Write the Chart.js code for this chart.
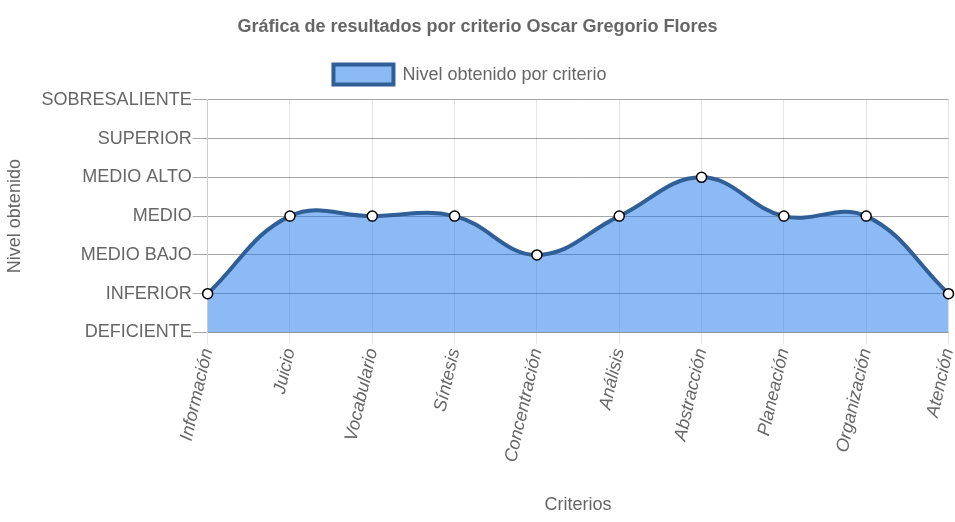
<!DOCTYPE html>
<html><head><meta charset="utf-8">
<script src="https://cdn.jsdelivr.net/npm/chart.js@4/dist/chart.umd.min.js"></script>
<style>html,body{margin:0;padding:0;background:#fff}#wrap{width:955px;height:522px}</style>
</head><body><div id="wrap"><canvas id="c"></canvas></div>
<script>
const categories = ["Información","Juicio","Vocabulario","Síntesis","Concentración","Análisis","Abstracción","Planeación","Organización","Atención"];
const levelValues = [1,3,3,3,2,3,4,3,3,1];
const levelLabels = ["DEFICIENTE","INFERIOR","MEDIO BAJO","MEDIO","MEDIO ALTO","SUPERIOR","SOBRESALIENTE"];

Chart.defaults.font.family = "'Liberation Sans', Arial, sans-serif";
Chart.defaults.color = '#666';
Chart.defaults.font.size = 18;

new Chart(document.getElementById('c'), {
  type: 'line',
  data: {
    labels: categories,
    datasets: [{
      label: 'Nivel obtenido por criterio   ',
      data: levelValues,
      fill: true,
      backgroundColor: 'rgba(23,117,235,0.5)',
      borderColor: '#2f5f96',
      borderWidth: 4,
      tension: 0.4,
      pointBackgroundColor: '#fff',
      pointBorderColor: '#000',
      pointBorderWidth: 1.5,
      pointRadius: 5
    }]
  },
  options: {
    responsive: true,
    maintainAspectRatio: false,
    animation: false,
    plugins: {
      title: { display: true, text: 'Gráfica de resultados por criterio Oscar Gregorio Flores', font: { size: 18, weight: 'bold' }, padding: { top: 16, bottom: 13 } },
      subtitle: { display: true, text: ' ', weight: 500, font: { size: 1 }, padding: { top: 2, bottom: 2 } },
      legend: { labels: { boxWidth: 60, boxHeight: 20, padding: 14, font: { size: 18 } } },
      tooltip: { enabled: false }
    },
    scales: {
      x: {
        title: { display: true, text: 'Criterios', font: { size: 18 }, padding: { top: 28, bottom: 6 } },
        ticks: { minRotation: 77, maxRotation: 77, padding: 2, font: { size: 18, style: 'italic' } },
        grid: { color: 'rgba(0,0,0,0.1)', tickLength: 12 },
        afterFit: (s) => { s.paddingRight = 5; }
      },
      y: {
        min: 0, max: 6,
        title: { display: true, text: 'Nivel obtenido', font: { size: 18 } },
        ticks: { stepSize: 1, padding: 1, font: { size: 18 }, callback: v => levelLabels[v] },
        grid: { color: 'rgba(0,0,0,0.35)', tickLength: 15 },
        afterFit: (s) => { s.width += 11; }
      }
    }
  }
});
</script></body></html>
